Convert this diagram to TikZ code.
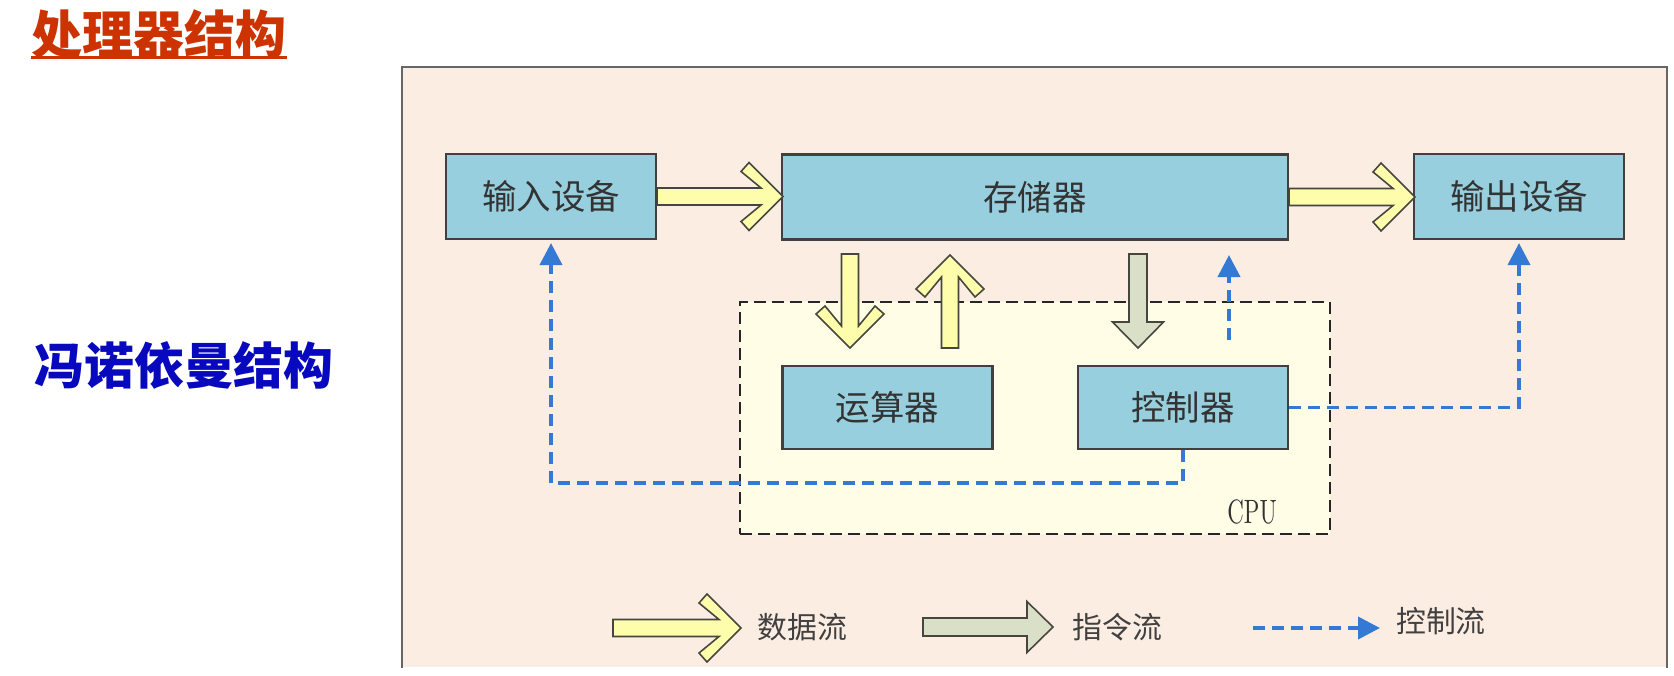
\documentclass[tikz,border=0pt]{standalone}
\usepackage{fontspec}
\newfontfamily\cjk{Noto Sans CJK SC}
\usetikzlibrary{arrows.meta,positioning,calc}

\definecolor{panelfill}{RGB}{252,237,227}
\definecolor{cpufill}{RGB}{255,253,230}
\definecolor{boxfill}{RGB}{151,207,222}
\definecolor{datafill}{RGB}{253,253,172}
\definecolor{instfill}{RGB}{218,223,200}
\definecolor{arrowline}{RGB}{70,70,62}
\definecolor{ctlblue}{RGB}{52,121,212}
\definecolor{titlered}{RGB}{204,51,0}
\definecolor{titleblue}{RGB}{8,8,190}

% chevron arrow: start, angle, length
\newcommand{\datarrow}[3]{%
  \draw[dataflow, shift={(#1)}, rotate=#2]
    (0,0.085) -- (#3-0.22,0.085) -- (#3-0.42,0.25) -- (#3-0.34,0.34) -- (#3,0)
    -- (#3-0.34,-0.34) -- (#3-0.42,-0.25) -- (#3-0.22,-0.085) -- (0,-0.085) -- cycle;}
% block arrow: start, angle, length
\newcommand{\instarrow}[3]{%
  \draw[instflow, shift={(#1)}, rotate=#2]
    (0,0.09) -- (#3-0.26,0.09) -- (#3-0.26,0.255) -- (#3,0)
    -- (#3-0.26,-0.255) -- (#3-0.26,-0.09) -- (0,-0.09) -- cycle;}

\begin{document}
\begin{tikzpicture}[
    font=\cjk,
    unit/.style={draw=black!75, fill=boxfill, line width=0.6pt, minimum width=2.1cm,
      minimum height=0.85cm, inner sep=0pt, text=black!80,
      font=\cjk\fontsize{9.8pt}{10pt}\selectfont},
    dataflow/.style={draw=arrowline, fill=datafill, line width=0.45pt},
    instflow/.style={draw=arrowline, fill=instfill, line width=0.45pt},
    ctlflow/.style={-{Triangle[length=0.22cm, width=0.22cm]}, draw=ctlblue,
      line width=0.038cm, dash pattern=on 0.12cm off 0.07cm, shorten >=0.03cm},
    lbl/.style={font=\cjk\fontsize{8.5pt}{9pt}\selectfont, text=black!75, inner sep=0pt}
  ]
  \useasboundingbox (0,0) rectangle (16.74,-6.75);

  % headings
  \node[text=titlered, font=\cjk\bfseries\fontsize{14.5pt}{16pt}\selectfont, inner sep=0pt]
    (title) at (1.59,-0.34) {处理器结构};
  \coordinate (ul) at (0,-0.575);
  \draw[titlered, line width=0.03cm] (title.west |- ul) -- (title.east |- ul);
  \node[text=titleblue, font=\cjk\bfseries\fontsize{14.2pt}{16pt}\selectfont, inner sep=0pt]
    (vn) at (1.84,-3.65) {冯诺依曼结构};

  % panel and CPU frame
  \node[fill=panelfill, minimum width=12.63cm, minimum height=5.99cm, inner sep=0pt]
    (panel) at (10.345,-3.675) {};
  \draw[black!60, line width=0.6pt]
    (panel.south west) -- (panel.north west) -- (panel.north east) -- (panel.south east);
  \node[draw=black!85, fill=cpufill, dash pattern=on 0.12cm off 0.06cm, line width=0.6pt,
    minimum width=5.9cm, minimum height=2.32cm, inner sep=0pt] (cpu) at (10.35,-4.18) {};
  \node[font=\rmfamily\fontsize{9.6pt}{10pt}\selectfont, text=black!80, inner sep=0pt]
    (cpulbl) at ($(cpu.south east)+(-0.79,0.23)$) {\scalebox{0.68}[1]{CPU}};

  \node[unit] (in) at (5.51,-1.965) {输入设备};
  \node[unit, minimum width=5.06cm] (mem) at (10.35,-1.97) {存储器};
  \node[unit] (out) at (15.19,-1.965) {输出设备};
  \node[unit, minimum height=0.83cm] (alu) at (8.875,-4.075) {运算器};
  \node[unit, minimum height=0.83cm] (ctl) at (11.83,-4.075) {控制器};

  % data flow
  \datarrow{in.east}{0}{1.26}
  \datarrow{mem.east}{0}{1.26}
  \coordinate (dnA) at (8.50,-2.54);
  \coordinate (upA) at (9.50,-3.48);
  \datarrow{dnA}{-90}{0.94}
  \datarrow{upA}{90}{0.93}

  % instruction flow
  \coordinate (insA) at (11.38,-2.54);
  \instarrow{insA}{-90}{0.94}

  % control flow
  \coordinate (cS) at (12.29,-3.40);
  \coordinate (cE) at (12.29,-2.52);
  \draw[ctlflow] (cS) -- (cE);
  \draw[ctlflow] (ctl.south) -- ++(0,-0.33) -| (in.south);
  \draw[ctlflow] (ctl.east) -| (out.south);

  % legend
  \coordinate (lgD) at (6.13,-6.28);
  \datarrow{lgD}{0}{1.28}
  \node[lbl] (lgDt) at (8.025,-6.27) {数据流};
  \coordinate (lgI) at (9.23,-6.27);
  \instarrow{lgI}{0}{1.30}
  \node[lbl] (lgIt) at (11.175,-6.27) {指令流};
  \coordinate (lgCs) at (12.53,-6.28);
  \coordinate (lgCe) at (13.83,-6.28);
  \draw[ctlflow] (lgCs) -- (lgCe);
  \node[lbl] (lgCt) at (14.41,-6.21) {控制流};
\end{tikzpicture}
\end{document}
